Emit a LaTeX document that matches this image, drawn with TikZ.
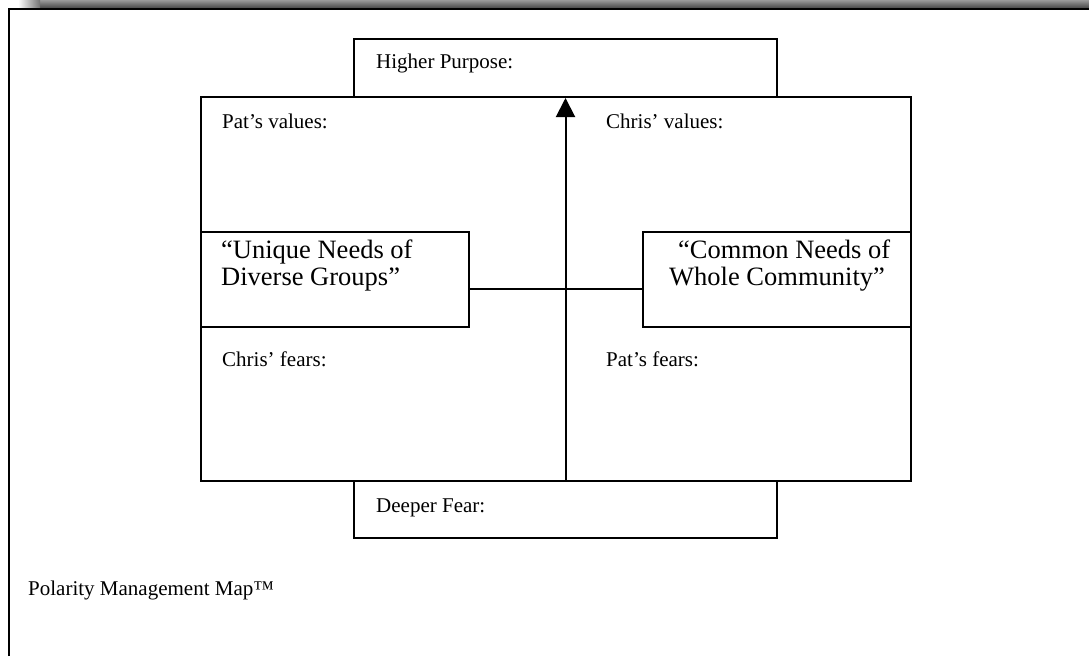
\documentclass[tikz,border=0pt]{standalone}
\usepackage{fontspec}
\setmainfont{Liberation Serif}
\usetikzlibrary{arrows.meta,positioning}
\tikzset{
	box/.style={draw, line width=2pt, inner sep=0pt},
	link/.style={line width=2pt},
	lbl/.style={anchor=base west, inner sep=0pt, font=\fontsize{21}{25}\selectfont},
	pole/.style={anchor=base west, inner sep=0pt, font=\fontsize{26.5}{27}\selectfont},
}
\begin{document}
\begin{tikzpicture}[x=1pt, y=-1pt, >={Triangle[width=19pt,length=19pt]}, line join=miter]
	\useasboundingbox (0,0) rectangle (1089,656);
	% shadow and page frame
	\shade[top color=black!40, bottom color=black!72] (40,0) rectangle (1089,8);
	\shade[left color=white, right color=black!55] (18,0) rectangle (40,8);
	\draw[line width=2pt] (9,656) -- (9,9) -- (1089,9);
	% map
	\node[box, minimum width=710pt, minimum height=384pt] (map) at (556,289) {};
	\node[box, minimum width=423pt, minimum height=58pt] (purpose) at (565.5,68) {};
	\node[box, minimum width=423pt, minimum height=57pt] (fear) at (565.5,509.5) {};
	\node[box, minimum width=268pt, minimum height=95pt] (unique) at (335,279.5) {};
	\node[box, minimum width=268pt, minimum height=95pt] (common) at (777,279.5) {};
	\coordinate (hub) at (565.5,289);
	\draw[link] (hub -| unique.east) -- (hub -| common.west);
	\draw[link, ->] (fear.north) -- (purpose.south);
	% texts
	\node[lbl] (hp) at (376,68) {Higher Purpose:};
	\node[lbl] (pv) at (222,128) {Pat’s values:};
	\node[lbl] (cv) at (606,128) {Chris’ values:};
	\node[lbl] (cf) at (222,366) {Chris’ fears:};
	\node[lbl] (pf) at (606,366) {Pat’s fears:};
	\node[lbl] (df) at (376,512) {Deeper Fear:};
	\node[pole] (u1) at (221,258) {“Unique Needs of};
	\node[pole] (u2) at (221,285) {Diverse Groups”};
	\node[pole] (c1) at (678,258) {“Common Needs of};
	\node[pole] (c2) at (669,285) {Whole Community”};
	\node[lbl] (pmm) at (28,595) {Polarity Management Map™};
\end{tikzpicture}
\end{document}
